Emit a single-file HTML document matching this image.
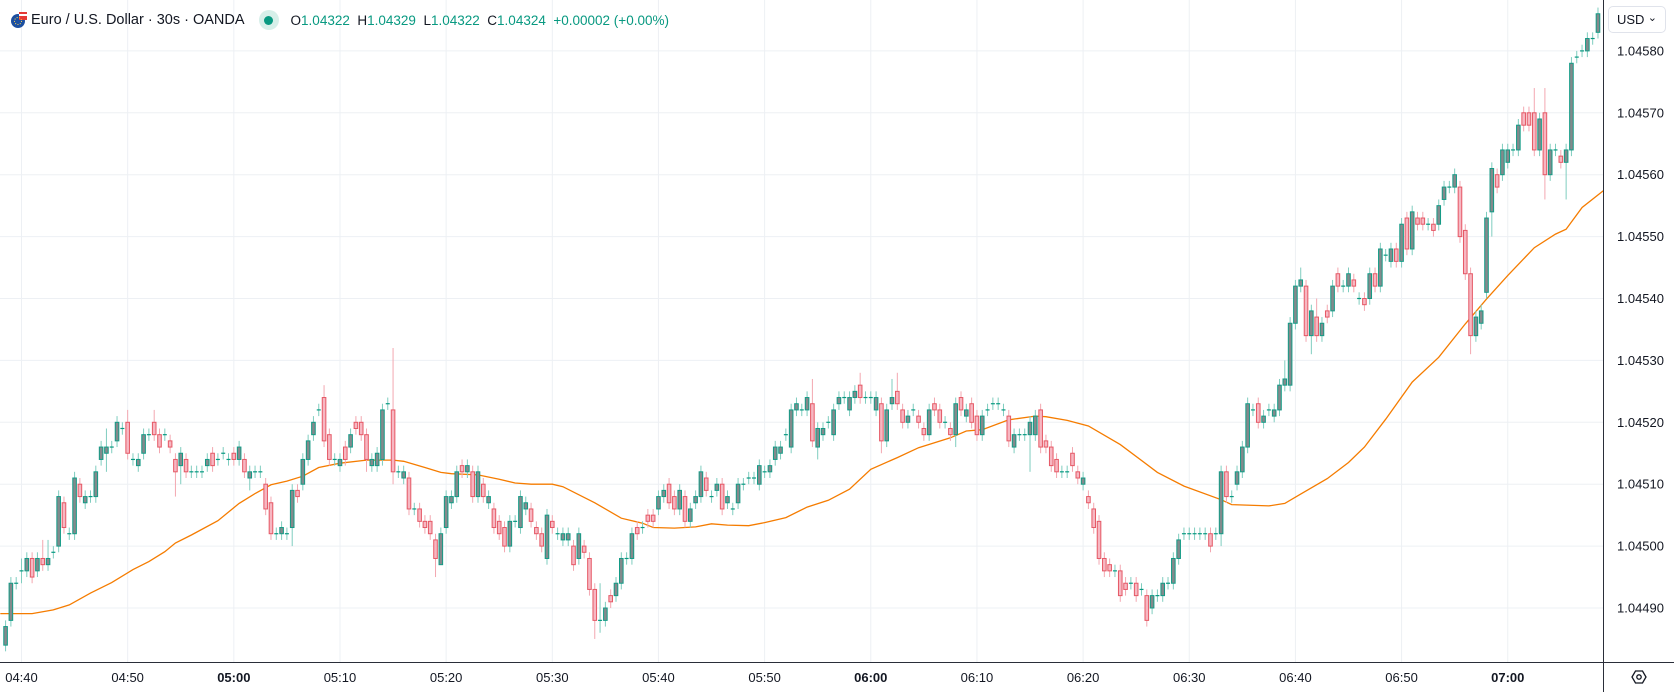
<!DOCTYPE html>
<html><head><meta charset="utf-8"><style>
html,body{margin:0;padding:0;background:#fff;width:1674px;height:692px;overflow:hidden;font-family:"Liberation Sans",sans-serif}
#hdr{position:absolute;left:10px;top:8px;height:24px;display:flex;align-items:center;font-size:14.5px;color:#131722;white-space:nowrap}
.lbl{color:#131722}.val{color:#089981}
#usd{position:absolute;left:1608px;top:6px;width:58px;height:27px;border:1px solid #e0e3eb;border-radius:5px;box-sizing:border-box;font-size:13px;color:#131722;display:flex;align-items:center;padding-left:8px}
</style></head><body>
<svg id="chart" width="1674" height="692" style="position:absolute;left:0;top:0"></svg>
<div id="hdr">
 <svg width="18" height="18"><circle cx="8" cy="10" r="7" fill="#1c4fa0"/><rect x="9" y="1" width="8" height="8" fill="#e53935"/><rect x="9" y="3" width="8" height="2" fill="#fff"/><circle cx="8" cy="10" r="3.5" fill="none" stroke="#ffd54f" stroke-dasharray="1 1.5"/></svg>
 <span style="margin-left:3px">Euro / U.S. Dollar · 30s · OANDA</span>
 <span style="margin-left:14px;width:20px;height:20px;border-radius:50%;background:#d6efe9;display:inline-flex;align-items:center;justify-content:center"><span style="width:9px;height:9px;border-radius:50%;background:#089981"></span></span>
 <span style="margin-left:12px;font-size:13.5px"><span class="lbl">O</span><span class="val">1.04322</span> <span class="lbl">&nbsp;H</span><span class="val">1.04329</span> <span class="lbl">&nbsp;L</span><span class="val">1.04322</span> <span class="lbl">&nbsp;C</span><span class="val">1.04324</span> <span class="val">&nbsp;+0.00002 (+0.00%)</span></span>
</div>
<div id="usd">USD<span style="position:absolute;right:8px;top:4px;font-size:11px">⌄</span></div>
<script>
const basePrice = 1.04490;
const firstIndex = -3;
const opens = [-6,-2,4,6,6,8,6,8,7,9,10,17,12,
12,20,17,18,18,24,25,26,27,29,
30,24,23,25,28,30,28,28,27,24,
23,24,22,22,22,23,25,24,25,24,
25,24,24,21,22,22,20,17,12,12,
12,13,19,20,24,28,32,34,28,24,
23,26,26,30,30,28,23,23,24,33,
32,22,21,21,16,16,14,14,11,7,
13,17,18,23,22,22,18,20,17,16,
14,13,10,14,13,16,16,13,12,8,
14,12,11,11,10,8,10,8,3,-2,
-2,2,2,4,8,8,13,13,15,15,
16,18,20,18,16,18,14,17,18,21,
18,19,20,17,16,17,20,21,21,20,
22,22,24,25,28,26,32,32,32,33,
26,28,30,28,33,34,32,34,36,34,
34,32,33,27,33,35,32,30,32,31,
29,28,33,32,30,29,28,34,31,33,
31,28,32,33,33,32,31,26,28,28,
28,28,32,27,26,24,22,22,25,22,
20,18,16,14,8,7,6,6,4,4,
4,3,2,0,2,2,4,4,8,12,
12,12,12,12,12,12,12,22,18,20,
22,26,32,33,30,32,31,32,36,36,
46,52,52,44,47,44,48,48,54,52,
52,53,50,50,50,54,52,57,56,58,
56,63,58,63,63,62,62,62,66,68,
68,68,61,54,44,46,51,64,70,70,
72,74,74,80,80,80,74,80,70,74,
73,72,74,89,90,90,92,93];
const closes = [-3,4,4,6,8,5,8,7,8,9,18,13,12,
21,18,18,18,22,26,26,26,30,29,
25,24,24,28,28,28,26,28,26,22,
25,22,22,22,22,24,23,24,25,24,
24,26,22,22,22,22,16,12,12,13,
12,19,18,24,27,30,32,27,24,24,
24,24,28,29,28,24,24,25,32,33,
22,22,22,16,16,14,13,12,8,12,
18,18,22,22,23,18,22,18,18,13,
12,10,14,14,18,17,14,12,10,15,
13,12,12,12,7,12,9,3,-2,-2,
0,1,4,8,8,12,12,13,14,14,
18,19,17,16,19,14,16,18,22,19,
18,20,16,18,16,20,20,21,21,23,
22,23,26,26,28,32,33,32,34,27,
29,29,30,32,34,34,34,35,34,34,
34,34,27,32,34,33,30,31,32,30,
28,32,32,30,30,28,33,32,32,30,
28,31,32,33,33,32,27,28,28,28,
30,31,26,26,23,22,22,22,23,21,
21,17,13,8,6,6,6,2,3,4,
2,3,-2,2,2,4,4,8,11,12,
12,12,12,12,10,12,22,18,18,22,
26,33,32,30,31,32,32,36,37,46,
52,53,44,48,44,46,47,52,52,52,
54,52,50,49,54,52,58,57,58,56,
62,58,64,62,62,62,61,65,68,68,
70,60,54,44,47,48,63,71,68,74,
74,74,78,78,78,74,79,70,74,74,
72,74,88,89,90,92,92,96];
const highMarks = [[-2,5],[0,8],[4,11],[5,11],[16,29],[20,32],[25,32],[57,36],[70,42],[109,4],[149,37],[158,38],[164,37],[165,38],[190,31],[238,40],[241,55],[244,50],[285,84],[287,84],[297,97]];
const lowMarks = [[0,4],[2,4],[16,22],[29,18],[30,20],[43,19],[51,10],[65,22],[70,20],[78,5],[79,7],[108,-5],[109,-4],[150,24],[162,25],[176,26],[190,22],[226,10],[243,41],[273,41],[276,50],[277,60],[287,66],[291,66]];
const maIndex = [-4,2,6,9,13,17,21,24,27,29,32,37,41,44,47,50,53,56,60,65,70,72,76,79,81,86,90,93,96,100,102,108,113,117,119,123,127,130,133,137,140,144,148,152,156,160,165,169,175,178,181,186,191,193,197,201,207,214,219,226,228,235,238,241,246,250,253,257,262,267,272,276,280,285,289,291,294,298];
const maValues = [-0.9,-0.9,-0.3,0.5,2.4,4.1,6.2,7.5,9.1,10.5,11.8,14.1,16.9,18.5,19.9,20.5,21.3,22.7,23.4,23.9,23.9,23.7,22.7,21.9,21.7,21.5,20.8,20.2,20,20,19.6,17,14.5,13.7,13,12.9,13.1,13.6,13.4,13.3,13.8,14.6,16.3,17.4,19.2,22.4,24.3,25.9,27.5,28.6,28.8,30.4,31,30.9,30.3,29.4,26.4,21.9,19.7,17.5,16.7,16.5,16.9,18.4,20.9,23.5,26,30.5,36.5,40.5,45.9,49.9,53.7,58.2,60.4,61.2,64.7,67.4];
const priceTicks = [1.04580,1.04570,1.04560,1.04550,1.04540,1.04530,1.04520,1.04510,1.04500,1.04490];
const timeTicks = ["04:40","04:50","05:00","05:10","05:20","05:30","05:40","05:50","06:00","06:10","06:20","06:30","06:40","06:50","07:00"];
const timeBold = [false,false,true,false,false,false,false,false,true,false,false,false,false,false,true];
const candlesPerTick = 20;

const NS="http://www.w3.org/2000/svg";
const svg=document.getElementById('chart');
const PLOT_R=1603, PLOT_B=662;
const xScale=n=>21.5+n*5.308;
const yScale=p=>608-p*6.19; // p in pips above base
const priceY=v=>yScale(Math.round((v-basePrice)*1e5*100)/100);
function mk(tag,attrs,parent){const e=document.createElementNS(NS,tag);for(const k in attrs)e.setAttribute(k,attrs[k]);(parent||svg).appendChild(e);return e;}

const grid=mk('g',{});


priceTicks.forEach(v=>{const y=priceY(v);
 const l=mk('line',{x1:0,x2:PLOT_R,y1:y,y2:y,stroke:'#edf0f4','stroke-width':1},grid);
 
 });
timeTicks.forEach((t,i)=>{const x=xScale(i*candlesPerTick);
 const l=mk('line',{x1:x,x2:x,y1:0,y2:PLOT_B,stroke:'#edf0f4','stroke-width':1},grid);
 
 });

// MA line
const maPts=maIndex.map((n,i)=>xScale(n).toFixed(1)+','+yScale(maValues[i]).toFixed(1)).join(' ');
const ma=mk('polyline',{points:maPts,fill:'none',stroke:'#f57c00','stroke-width':1.3});



// candles
const hiMap={},loMap={};highMarks.forEach(a=>hiMap[a[0]]=a[1]);lowMarks.forEach(a=>loMap[a[0]]=a[1]);
const cg=mk('g',{});


opens.forEach((o,i)=>{
 const c=closes[i], n=i+firstIndex, x=xScale(n);
 const up=c>=o;
 const top=Math.max(o,c), bot=Math.min(o,c);
 const hi=hiMap[n]!==undefined?hiMap[n]:top+1, lo=loMap[n]!==undefined?loMap[n]:bot-1;
 const g=mk('g',{},cg);
 
 
 mk('line',{x1:x,x2:x,y1:yScale(hi),y2:yScale(lo),stroke:up?'#7fcdbf':'#f3a7b0','stroke-width':1},g);
 if(top===bot){
  mk('line',{x1:x-2,x2:x+2,y1:yScale(top),y2:yScale(top),stroke:up?'#089981':'#f23645','stroke-width':1.2},g);
 } else {
  mk('rect',{x:x-1.8,y:yScale(top),width:3.6,height:yScale(bot)-yScale(top),fill:up?'#838a8c':'#f7b7c2',stroke:up?'#139b86':'#e55865','stroke-width':1},g);
 }
});

// axes
const ax=mk('g',{});


mk('line',{x1:PLOT_R+0.5,x2:PLOT_R+0.5,y1:0,y2:692,stroke:'#2a2e39','stroke-width':1},ax);
mk('line',{x1:0,x2:1674,y1:PLOT_B+0.5,y2:PLOT_B+0.5,stroke:'#2a2e39','stroke-width':1},ax);
priceTicks.forEach(v=>{const t=mk('text',{x:1664,y:priceY(v)+4.5,'text-anchor':'end','font-size':13,fill:'#131722','font-family':'Liberation Sans, sans-serif'},ax);
 t.textContent=v.toFixed(5);
 
 });
timeTicks.forEach((lab,i)=>{const t=mk('text',{x:xScale(i*candlesPerTick),y:682,'text-anchor':'middle','font-size':13,fill:'#131722','font-weight':timeBold[i]?'bold':'normal','font-family':'Liberation Sans, sans-serif'},ax);
 t.textContent=lab;
 
 });
const gear=mk('g',{transform:'translate(1639,677)'});


mk('polygon',{points:'-7,0 -3.5,-6 3.5,-6 7,0 3.5,6 -3.5,6',fill:'none',stroke:'#131722','stroke-width':1.3},gear);
mk('circle',{cx:0,cy:0,r:2.2,fill:'none',stroke:'#131722','stroke-width':1.3},gear);
</script>
</body></html>
